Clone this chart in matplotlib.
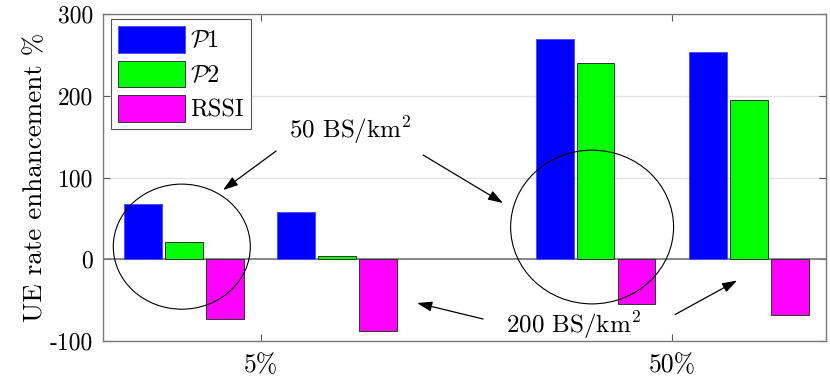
import matplotlib
matplotlib.use('Agg')
from matplotlib import pyplot as plt
from matplotlib.patches import Ellipse
import numpy as np

plt.rcParams['font.family'] = ['cmr10', 'DejaVu Serif']
plt.rcParams['mathtext.fontset'] = 'cm'
plt.rcParams['axes.unicode_minus'] = False

# data
categories = ['5%', '50%']
densities = ['50 BS/km$^2$', '200 BS/km$^2$']
p1 = [67, 58, 270, 253]     # order: (5%,50) (5%,200) (50%,50) (50%,200)
p2 = [21, 4, 240, 195]
rssi = [-73, -88, -55, -68]
series_names = [r'$\mathcal{P}1$', r'$\mathcal{P}2$', 'RSSI']
colors = ['#0000ff', '#00ff00', '#ff00ff']
edges = ['#4d4dff', '#333333', '#333333']

cat_pos = np.array([1, 1, 2, 2])
group_off = np.array([-0.186, 0.186, -0.186, 0.186])
centers = cat_pos + group_off
bar_step = 0.0995
bar_w = 0.092

fig, ax = plt.subplots(figsize=(8.3, 3.81), dpi=100)
fig.subplots_adjust(left=103/830, right=826/830, top=1-14/381, bottom=1-341/381)

ax.yaxis.grid(True, color='#e3e3e3', lw=1.0)
ax.set_axisbelow(True)
ax.axhline(0, color='#7f7f7f', lw=1.3, zorder=1.5)

for i, vals in enumerate([p1, p2, rssi]):
    ax.bar(centers + (i - 1) * bar_step, vals, width=bar_w, color=colors[i],
           edgecolor=edges[i], linewidth=0.7, label=series_names[i], zorder=2)

ax.set_xlim(0.617, 2.374)
ax.set_ylim(-100, 300)
ax.set_xticks([1, 2])
ax.set_xticklabels(categories, fontsize=18.5)
ax.set_yticks([-100, 0, 100, 200, 300])
ax.set_yticklabels(['-100', '0', '100', '200', '300'], fontsize=17)
ax.tick_params(direction='in', length=5, width=0.8, color='#555555',
               top=True, right=True, pad=7)
ax.tick_params(axis='x', pad=9)
for s in ax.spines.values():
    s.set_color('#7a7a7a')
    s.set_linewidth(1.0)
ax.set_ylabel('UE rate enhancement %', fontsize=19.5, labelpad=2)

leg = ax.legend(loc='upper left', bbox_to_anchor=(0.011, 0.985), fontsize=17.5,
                fancybox=False, edgecolor='#555555', framealpha=1,
                handlelength=2.75, handleheight=1.3, handletextpad=0.2,
                labelspacing=0.33, borderpad=0.3, borderaxespad=0)
leg.get_frame().set_linewidth(0.8)

# ellipses around the 50 BS/km^2 groups
ax.add_patch(Ellipse((0.8085, 15.4), 0.333, 153, fill=False, ec='k', lw=0.8, zorder=3))
ax.add_patch(Ellipse((1.8056, 39.4), 0.396, 188, fill=False, ec='k', lw=0.8, zorder=3))

arrow = dict(arrowstyle='-|>,head_length=0.9,head_width=0.3', color='k', lw=0.9,
             shrinkA=0, shrinkB=0)
ax.text(1.2175, 158, densities[0], fontsize=18, ha='center', va='center')
ax.annotate('', xy=(0.9088, 84.7), xytext=(1.0377, 132.4), arrowprops=arrow)
ax.annotate('', xy=(1.589, 68.8), xytext=(1.395, 127.5), arrowprops=arrow)

ax.text(1.7594, -80.4, densities[1], fontsize=18, ha='center', va='center')
ax.annotate('', xy=(1.3803, -53.5), xytext=(1.5407, -73.1), arrowprops=arrow)
ax.annotate('', xy=(2.158, -26), xytext=(2.0073, -67.6), arrowprops=arrow)

plt.savefig('out.png', dpi=100)
